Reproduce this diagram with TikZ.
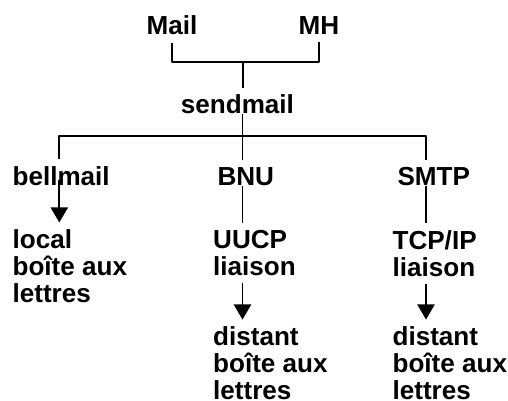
\documentclass[tikz,border=0pt]{standalone}
\usepackage{fontspec}
\setmainfont{Liberation Sans}
\usetikzlibrary{arrows.meta}
\begin{document}
\begin{tikzpicture}[x=0.46pt,y=-0.46pt,line width=0.8pt,line join=round,
	font=\fontsize{12pt}{12.3pt}\selectfont\bfseries,
	lbl/.style={inner xsep=0pt,inner ysep=3pt,anchor=base west},
	blk/.style={inner xsep=0pt,inner ysep=3pt,anchor=north west,align=left},
	>={Triangle[width=8pt,length=7pt]}]
	\useasboundingbox (0,0) rectangle (508,401);
	\node[lbl] (mail) at (145.7,35) {Mail};
	\node[lbl] (mh) at (297.7,35) {MH};
	\node[lbl] (sendmail) at (180,114) {sendmail};
	\node[lbl] (bellmail) at (11.7,185.7) {bellmail};
	\node[lbl] (bnu) at (216.7,185.7) {BNU};
	\node[lbl] (smtp) at (396.7,185.7) {SMTP};
	\node[blk] (local) at (11.7,222.5) {local\\boîte aux\\lettres};
	\node[blk] (uucp) at (212.3,223.2) {UUCP\\liaison};
	\node[blk] (tcpip) at (391.7,223.2) {TCP/IP\\liaison};
	\node[blk,inner ysep=0.5pt] (distbnu) at (212.3,325) {distant\\boîte aux\\lettres};
	\node[blk,inner ysep=0.5pt] (distsmtp) at (391.7,325) {distant\\boîte aux\\lettres};
	\coordinate (join) at (243.3,62);
	\coordinate (bl) at (59.3,136);\coordinate (bn) at (242.5,136);\coordinate (sm) at (426,136);
	\draw (mail.south) |- (join) -| (mh.south);
	\draw (join) -- (join |- sendmail.north);
	\draw (bn |- sendmail.base) -- (bn);
	\draw (bl |- bellmail.north) -- (bl) -- (sm) -- (sm |- smtp.north);
	\draw (bn) -- (bn |- bnu.north);
	\draw[->] (bl |- bellmail.mid) -- (bl |- local.north);
	\draw (bn |- bnu.base) -- (bn |- uucp.north);
	\draw[->,shorten >=2.5pt] (bn |- uucp.south) -- (bn |- distbnu.north);
	\draw (sm |- smtp.base) -- (sm |- tcpip.north);
	\draw[->,shorten >=2.5pt] (sm |- tcpip.south) -- (sm |- distsmtp.north);
\end{tikzpicture}
\end{document}
